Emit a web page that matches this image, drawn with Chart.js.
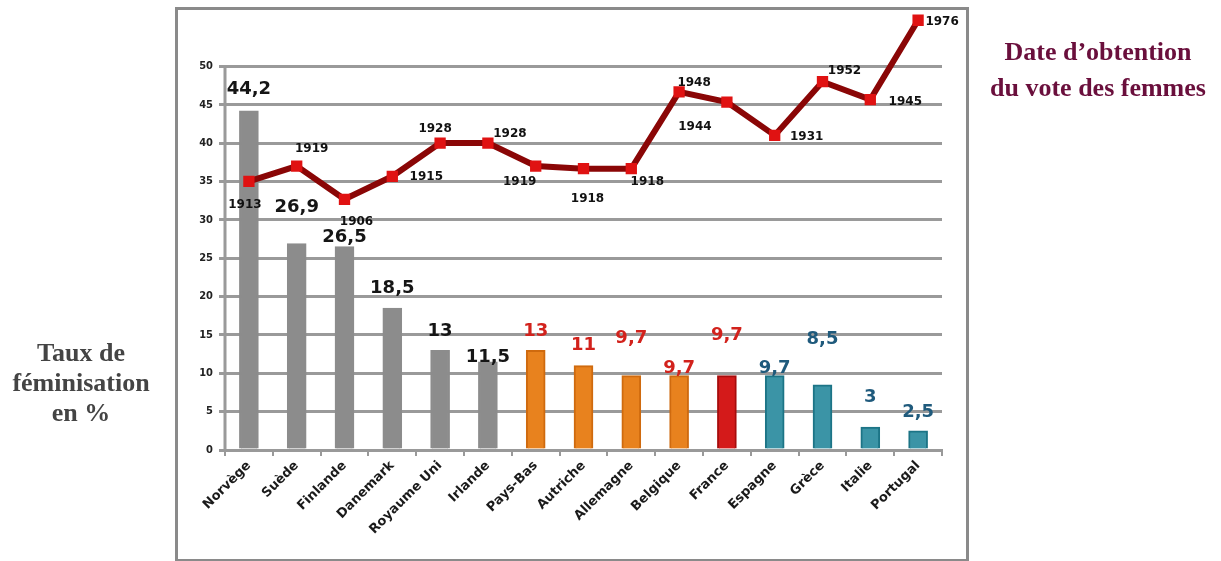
<!DOCTYPE html>
<html>
<head>
<meta charset="utf-8">
<script src="https://cdn.jsdelivr.net/npm/chart.js@4.4.0/dist/chart.umd.min.js"></script>
<style>
  html, body { margin: 0; padding: 0; background: #fff; }
  #wrap { position: relative; width: 1221px; height: 561px; }
  #frame { position: absolute; left: 175px; top: 7px; width: 788px; height: 549px; border: 3px solid #8a8a8a; }
  canvas { position: absolute; left: 0; top: 0; }
  .side { position: absolute; font-family: "Liberation Serif", serif; font-weight: bold; font-size: 26px; text-align: center; }
  #right { left: 975px; top: 34px; width: 246px; line-height: 36px; color: #6a0f3c; }
  #left { left: 0; top: 338px; width: 162px; line-height: 30px; color: #444; }
</style>
</head>
<body>
<div id="wrap">
  <div id="frame"></div>
  <canvas id="chart" width="1221" height="561"></canvas>
  <div id="right" class="side">Date d’obtention<br>du vote des femmes</div>
  <div id="left" class="side">Taux de<br>féminisation<br>en %</div>
</div>
<script>
// data
var countries = ['Norvège', 'Suède', 'Finlande', 'Danemark', 'Royaume Uni', 'Irlande', 'Pays-Bas',
    'Autriche', 'Allemagne', 'Belgique', 'France', 'Espagne', 'Grèce', 'Italie', 'Portugal'];
var feminisation = [44.2, 26.9, 26.5, 18.5, 13, 11.5, 13, 11, 9.7, 9.7, 9.7, 9.7, 8.5, 3, 2.5];
var voteYears = [1913, 1919, 1906, 1915, 1928, 1928, 1919, 1918, 1918, 1948, 1944, 1931, 1952, 1945, 1976];
var yTicks = [0, 5, 10, 15, 20, 25, 30, 35, 40, 45, 50];

// styles
var barFill = [];
var barEdge = [];
var labelColor = [];
countries.forEach(function (c, i) {
    if (i < 6) { barFill.push('#8c8c8c'); barEdge.push('#8c8c8c'); labelColor.push('#151515'); }
    else if (i < 10) { barFill.push('#e8821e'); barEdge.push('#cf6a0e'); labelColor.push('#d2221c'); }
    else if (i === 10) { barFill.push('#d41a1a'); barEdge.push('#a80c0c'); labelColor.push('#d2221c'); }
    else { barFill.push('#3b94a6'); barEdge.push('#1c7486'); labelColor.push('#1f5a7c'); }
});
// label placement (pixels) relative to bar top / line point
var barLabelLift = [21, 36, 9, 20, 19, 4, 19, 20, 37, 7, 40, 7, 45, 30, 18];
var yearOffset = [[-4, 23], [15, -17], [12, 23], [34, 1], [-5, -14], [22, -9], [-16, 16], [4, 30],
    [16, 13], [15, -9], [-32, 25], [32, 1], [22, -11], [35, 2], [24, 2]];

var labelsPlugin = {
    id: 'valueLabels',
    beforeDatasetsDraw: function (chart) {
        // vertical axis line only from 0 up to 50
        var ctx = chart.ctx, y = chart.scales.y, x0 = chart.chartArea.left;
        ctx.save();
        ctx.strokeStyle = '#9a9a9a';
        ctx.lineWidth = 3;
        ctx.beginPath();
        ctx.moveTo(x0, y.getPixelForValue(0));
        ctx.lineTo(x0, y.getPixelForValue(yTicks[yTicks.length - 1]) - 1);
        ctx.stroke();
        ctx.restore();
    },
    afterDatasetsDraw: function (chart) {
        var ctx = chart.ctx;
        ctx.save();
        ctx.textAlign = 'center';
        ctx.textBaseline = 'middle';
        var bars = chart.getDatasetMeta(1).data;
        ctx.font = 'bold 18px "DejaVu Sans"';
        bars.forEach(function (b, i) {
            ctx.fillStyle = labelColor[i];
            ctx.fillText(String(feminisation[i]).replace('.', ','), b.x, b.y - barLabelLift[i]);
        });
        var pts = chart.getDatasetMeta(0).data;
        ctx.font = 'bold 12px "DejaVu Sans"';
        ctx.fillStyle = '#111';
        pts.forEach(function (p, i) {
            ctx.fillText(String(voteYears[i]), p.x + yearOffset[i][0], p.y + yearOffset[i][1]);
        });
        ctx.restore();
    }
};

new Chart(document.getElementById('chart'), {
    data: {
        labels: countries,
        datasets: [{
            type: 'line',
            data: voteYears,
            yAxisID: 'y2',
            borderColor: '#8a0606',
            borderWidth: 6,
            pointStyle: 'rect',
            pointRadius: 8,
            pointBackgroundColor: '#e01212',
            pointBorderWidth: 0,
            order: 0
        }, {
            type: 'bar',
            data: feminisation,
            yAxisID: 'y',
            backgroundColor: barFill,
            borderColor: barEdge,
            borderWidth: 2,
            barThickness: 19,
            order: 1
        }]
    },
    options: {
        responsive: false,
        animation: false,
        layout: { padding: { left: 180, right: 279, top: 11, bottom: 0 } },
        plugins: { legend: { display: false }, tooltip: { enabled: false } },
        scales: {
            x: {
                offset: true,
                grid: { drawOnChartArea: false, color: '#999', lineWidth: 2, tickLength: 6, offset: true },
                border: { color: '#999', width: 3 },
                ticks: {
                    minRotation: 45, maxRotation: 45, color: '#1a1a1a', padding: 2,
                    font: { family: 'DejaVu Sans', weight: 'bold', size: 13 }
                },
                afterFit: function (s) { s.height = 111; }
            },
            y: {
                min: 0, max: 57,
                afterBuildTicks: function (s) { s.ticks = yTicks.map(function (v) { return { value: v }; }); },
                grid: { color: '#9a9a9a', lineWidth: 3, tickLength: 6 },
                border: { display: false },
                ticks: {
                    color: '#222', padding: 6,
                    font: { family: 'DejaVu Sans Condensed', weight: 'bold', size: 11 }
                },
                afterFit: function (s) { s.width = 45; }
            },
            y2: { display: false, min: 1808, max: 1979 }
        }
    },
    plugins: [labelsPlugin]
});
</script>
</body>
</html>
